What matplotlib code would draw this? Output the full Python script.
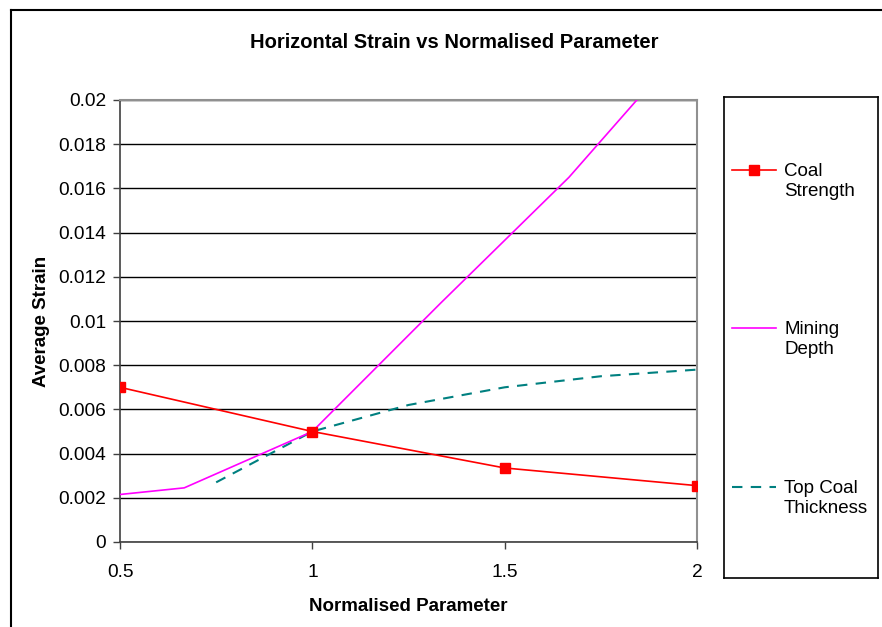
import matplotlib.pyplot as plt
from matplotlib.lines import Line2D

plt.rcParams['font.family'] = ['Liberation Sans', 'DejaVu Sans']

# Series data
coal_x = [0.5, 1.0, 1.5, 2.0]
coal_y = [0.0070, 0.0050, 0.00335, 0.00255]

depth_x = [0.5, 0.667, 1.0, 1.333, 1.667, 2.0]
depth_y = [0.00215, 0.00245, 0.0050, 0.0108, 0.0165, 0.0231]

top_x = [0.75, 1.0, 1.25, 1.5, 1.75, 2.0]
top_y = [0.0027, 0.0050, 0.0062, 0.0070, 0.0075, 0.0078]

labels = ['Coal\nStrength', 'Mining\nDepth', 'Top Coal\nThickness']
x_ticks = [0.5, 1, 1.5, 2]
y_ticks = [0, 0.002, 0.004, 0.006, 0.008, 0.01, 0.012, 0.014, 0.016, 0.018, 0.02]

W, H = 882, 627
fig = plt.figure(figsize=(W / 100, H / 100), dpi=100)
# chart area border (only top and left visible in the crop)
fig.lines.append(Line2D([10.5 / W, 1], [1 - 9.5 / H, 1 - 9.5 / H], transform=fig.transFigure,
                        color='black', lw=1.5))
fig.lines.append(Line2D([10.5 / W, 10.5 / W], [0, 1 - 9.5 / H], transform=fig.transFigure,
                        color='black', lw=1.5))

ax = fig.add_axes([120 / W, 85 / H, 577 / W, 442 / H])
ax.plot(coal_x, coal_y, color='#FF0000', lw=1.2, marker='s', ms=6.5, zorder=5)
ax.plot(depth_x, depth_y, color='#FF00FF', lw=1.2, zorder=4)
ax.plot(top_x, top_y, color='#008080', lw=1.5, ls=(0, (5, 4)), zorder=3)

ax.set_xlim(0.5, 2)
ax.set_ylim(0, 0.02)
ax.set_xticks(x_ticks)
ax.set_xticklabels(['0.5', '1', '1.5', '2'])
ax.set_yticks(y_ticks)
ax.set_yticklabels(['0'] + ['%g' % v for v in y_ticks[1:]])
ax.yaxis.grid(True, color='black', lw=1)
ax.set_axisbelow(True)
ax.tick_params(labelsize=13.8, direction='out', length=5, width=1, colors='#404040', labelcolor='black', pad=5)
ax.tick_params(axis='x', pad=11)
for s in ['top', 'right']:
    ax.spines[s].set_color('#909090')
    ax.spines[s].set_linewidth(1.5)
for s in ['left', 'bottom']:
    ax.spines[s].set_color('#404040')
    ax.spines[s].set_linewidth(1.2)

ax.set_xlabel('Normalised Parameter', fontsize=13.5, fontweight='bold', labelpad=12)
ax.set_ylabel('Average Strain', fontsize=13.5, fontweight='bold', labelpad=6)
fig.text(454 / W, 1 - 42 / H, 'Horizontal Strain vs Normalised Parameter',
         ha='center', va='center', fontsize=14.5, fontweight='bold')

# Legend box
lg = fig.add_axes([724 / W, 49 / H, 154 / W, 481 / H])
lg.set_xlim(0, 154)
lg.set_ylim(481, 0)
lg.set_xticks([])
lg.set_yticks([])
for s in lg.spines.values():
    s.set_color('black')
    s.set_linewidth(1.2)
styles = [dict(color='#FF0000', lw=1.2, marker='s', ms=6.5, markevery=[1]),
          dict(color='#FF00FF', lw=1.2),
          dict(color='#008080', lw=1.5, ls=(0, (5, 4)))]
rows = [73, 231, 390]
for lab, st, yr in zip(labels, styles, rows):
    lg.plot([8, 30, 52], [yr, yr, yr], **st)
    lg.text(60, yr - 7, lab, ha='left', va='top', fontsize=13.5, linespacing=1.25)

fig.savefig('out.png', dpi=100)
